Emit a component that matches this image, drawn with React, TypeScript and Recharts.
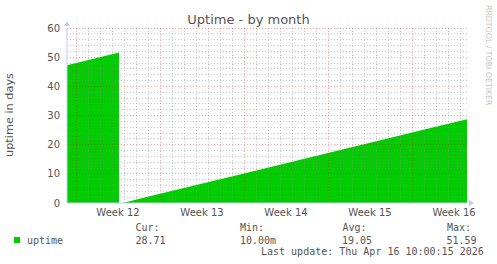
import React from "react";
import {
  ComposedChart,
  Area,
  XAxis,
  YAxis,
  ReferenceLine,
  ReferenceDot,
} from "recharts";

// time axis in days, day 0 = start of Week 12
const days = [-0.75, 3.58, 3.72, 3.87, 7, 14, 21, 28, 32.58];
const uptime = [47.26, 51.59, null, 0.007, 3.13, 10.13, 17.13, 24.13, 28.71];

const weekCenters = [3.5, 10.5, 17.5, 24.5, 31.5];
const weekLabels = ["Week 12", "Week 13", "Week 14", "Week 15", "Week 16"];
const yTicks = [0, 10, 20, 30, 40, 50, 60];

const majorDays = [0, 7, 14, 21, 28];
const minorDays = [
  1, 2, 3, 4, 5, 6, 8, 9, 10, 11, 12, 13, 15, 16, 17, 18, 19, 20, 22, 23, 24,
  25, 26, 27, 29, 30, 31, 32,
];
const majorY = [10, 20, 30, 40, 50, 60];
const minorY = [
  2, 4, 6, 8, 12, 14, 16, 18, 22, 24, 26, 28, 32, 34, 36, 38, 42, 44, 46, 48,
  52, 54, 56, 58,
];

const legend = { cur: "28.71", min: "10.00m", avg: "19.05", max: "51.59" };

const data = days.map((d, i) => ({ day: d, uptime: uptime[i] }));

const X_MIN = -0.75;
const X_MAX = 32.58;

const GREEN = "#00CC00";
const AXIS = "#c8c8f4";
const MINOR = "rgba(140,140,140,0.45)";
const MAJOR = "rgba(255,0,0,0.35)";
const TEXT = "#555";

const UpArrow = (props: any) => {
  const { cx, cy } = props;
  return (
    <polygon
      points={`${cx - 3},${cy - 2} ${cx + 3},${cy - 2} ${cx},${cy - 7}`}
      fill={AXIS}
    />
  );
};

const RightArrow = (props: any) => {
  const { cx, cy } = props;
  return (
    <polygon
      points={`${cx + 2},${cy - 3} ${cx + 2},${cy + 3} ${cx + 7},${cy}`}
      fill={AXIS}
    />
  );
};

export default function App() {
  const mono = "'DejaVu Sans Mono', monospace";
  const sans = "'DejaVu Sans', sans-serif";
  return (
    <div
      style={{
        position: "absolute",
        left: 0,
        top: 0,
        width: 497,
        height: 264,
        background: "#fff",
      }}
    >
      <ComposedChart
        width={497}
        height={264}
        data={data}
        margin={{ top: 28, right: 30, left: 0, bottom: 41 }}
      >
        <XAxis
          dataKey="day"
          type="number"
          domain={[X_MIN, X_MAX]}
          allowDataOverflow
          ticks={weekCenters}
          interval={0}
          tickFormatter={(v: number) => weekLabels[weekCenters.indexOf(v)]}
          height={20}
          tickLine={false}
          tickSize={0}
          tickMargin={6}
          axisLine={{ stroke: AXIS }}
          tick={{ fill: TEXT, fontSize: 10, fontFamily: sans }}
        />
        <YAxis
          type="number"
          domain={[0, 60]}
          ticks={yTicks}
          interval={0}
          width={67}
          tickLine={false}
          tickSize={0}
          tickMargin={7}
          axisLine={{ stroke: AXIS }}
          tick={{ fill: TEXT, fontSize: 10, fontFamily: sans }}
        />
        <Area
          dataKey="uptime"
          type="linear"
          fill={GREEN}
          fillOpacity={1}
          stroke="none"
          connectNulls={false}
          isAnimationActive={false}
        />
        {minorY.map((v) => (
          <ReferenceLine
            key={"my" + v}
            y={v}
            stroke={MINOR}
            strokeDasharray="1 2"
            shapeRendering="crispEdges"
          />
        ))}
        {minorDays.map((v) => (
          <ReferenceLine
            key={"mx" + v}
            x={v}
            stroke={MINOR}
            strokeDasharray="1 2"
            shapeRendering="crispEdges"
          />
        ))}
        {majorY.map((v) => (
          <ReferenceLine
            key={"My" + v}
            y={v}
            stroke={MAJOR}
            strokeDasharray="1 2"
            shapeRendering="crispEdges"
          />
        ))}
        {majorDays.map((v) => (
          <ReferenceLine
            key={"Mx" + v}
            x={v}
            stroke={MAJOR}
            strokeDasharray="1 2"
            shapeRendering="crispEdges"
          />
        ))}
        <ReferenceDot x={X_MIN} y={60} r={0} shape={UpArrow} />
        <ReferenceDot x={X_MAX} y={0} r={0} shape={RightArrow} />
      </ComposedChart>
      <svg
        width={497}
        height={264}
        style={{ position: "absolute", left: 0, top: 0, pointerEvents: "none" }}
      >
        <text
          x={248.5}
          y={23.5}
          textAnchor="middle"
          fontSize={13}
          fontFamily={sans}
          fill={TEXT}
        >
          Uptime - by month
        </text>
        <text
          x={13}
          y={115}
          transform="rotate(-90 13 115)"
          textAnchor="middle"
          fontSize={11.3}
          fontFamily={sans}
          fill={TEXT}
        >
          uptime in days
        </text>
        <text
          x={486}
          y={5}
          transform="rotate(90 486 5)"
          fontSize={7.8}
          fontFamily={sans}
          fill="#c4c4c4"
        >
          RRDTOOL / TOBI OETIKER
        </text>
        <g fontFamily={mono} fontSize={10} fill={TEXT}>
          <rect x={14} y={237} width={6} height={6} fill={GREEN} />
          <text x={27} y={243.5}>uptime</text>
          <text x={135.5} y={231}>Cur:</text>
          <text x={135.5} y={243.5}>{legend.cur}</text>
          <text x={240} y={231}>Min:</text>
          <text x={240} y={243.5}>{legend.min}</text>
          <text x={342.5} y={231}>Avg:</text>
          <text x={342} y={243.5}>{legend.avg}</text>
          <text x={447} y={231}>Max:</text>
          <text x={446.5} y={243.5}>{legend.max}</text>
          <text x={261} y={254.5}>Last update: Thu Apr 16 10:00:15 2026</text>
        </g>
      </svg>
    </div>
  );
}
